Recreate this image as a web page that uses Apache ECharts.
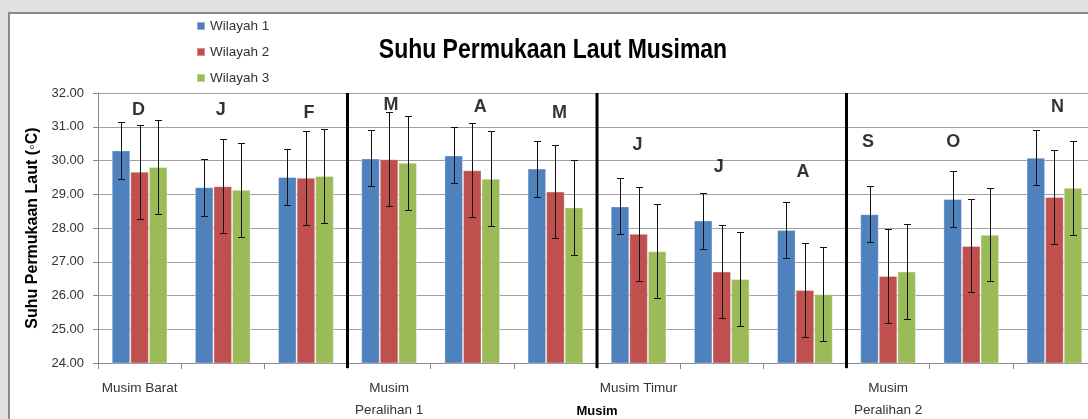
<!DOCTYPE html>
<html><head><meta charset="utf-8">
<script src="https://cdn.jsdelivr.net/npm/echarts@6/dist/echarts.min.js"></script>
<style>html,body{margin:0;padding:0;background:#e0e0e0}#c{width:1088px;height:419px}</style>
</head><body><div id="c"></div>
<script>
// ---------- data ----------
const seasonLabels = ['Musim Barat','','','Musim\nPeralihan 1','','','Musim Timur','','','Musim\nPeralihan 2','',''];
const months = ['D','J','F','M','A','M','J','J','A','S','O','N'];
const monthLetterY = [31.49,31.49,31.40,31.64,31.58,31.40,30.45,29.80,29.65,30.54,30.54,31.58];
const seriesNames = ['Wilayah 1','Wilayah 2','Wilayah 3'];
const wilayah1 = [30.30,29.21,29.51,30.06,30.15,29.76,28.64,28.22,27.94,28.41,28.86,30.08];
const wilayah2 = [29.67,29.24,29.49,30.04,29.71,29.08,27.83,26.71,26.16,26.58,27.47,28.92];
const wilayah3 = [29.81,29.13,29.54,29.93,29.46,28.61,27.31,26.49,26.04,26.71,27.80,29.19];
const err1 = [0.84,0.84,0.83,0.83,0.83,0.83,0.83,0.83,0.84,0.83,0.83,0.82];
const err2 = [1.39,1.40,1.39,1.39,1.39,1.39,1.39,1.39,1.39,1.39,1.38,1.38];
const err3 = [1.40,1.40,1.39,1.40,1.40,1.40,1.39,1.40,1.40,1.40,1.38,1.40];
const seasonStarts = [3,6,9];
const yMin = 24, yMax = 32, yStep = 1;
const chartTitle = 'Suhu Permukaan Laut Musiman';

// ---------- style ----------
const colors = ['#4F81BD','#C0504D','#9BBB59'];
const sans = '"Liberation Sans",Arial,sans-serif';
const letterNudge = [-1,-2,3,2,8,4,-1,-3,-2,-20,-18,3];
const catGap = 0.33;

const values = [wilayah1, wilayah2, wilayah3];
const errs = [err1, err2, err3];

function barSeries(k) {
  return {
    type: 'bar', name: seriesNames[k], data: values[k],
    barGap: '0%', barCategoryGap: (catGap*100)+'%',
    itemStyle: { color: colors[k], borderColor: 'rgba(255,255,255,0.35)', borderWidth: 1 },
    z: 2
  };
}
function errSeries(k) {
  return {
    type: 'custom', name: seriesNames[k] + ' error', z: 5, silent: true,
    data: values[k].map((v, i) => [i, v, errs[k][i]]),
    renderItem(params, api) {
      const i = api.value(0), v = api.value(1), e = api.value(2);
      const band = api.size([1, 0])[0];
      const bw = band * (1 - catGap) / 3;
      const top = api.coord([i, v + e]);
      const bot = api.coord([i, v - e]);
      const x = Math.round(top[0] + (k - 1) * bw) + 0.5;
      const y1 = Math.round(top[1]) + 0.5, y2 = Math.round(bot[1]) + 0.5;
      const c = 3.5;
      const st = { stroke: '#111', lineWidth: 1 };
      return { type: 'group', children: [
        { type: 'line', shape: { x1: x, y1: y1, x2: x, y2: y2 }, style: st },
        { type: 'line', shape: { x1: x - c, y1: y1, x2: x + c, y2: y1 }, style: st },
        { type: 'line', shape: { x1: x - c, y1: y2, x2: x + c, y2: y2 }, style: st }
      ]};
    }
  };
}

const chart = echarts.init(document.getElementById('c'));
chart.setOption({
  backgroundColor: '#e0e0e0',
  animation: false,
  graphic: [{
    type: 'rect', left: 8, top: 12, z: -100, silent: true,
    shape: { width: 1100, height: 420 },
    style: { fill: '#ffffff', stroke: '#8a8a8a', lineWidth: 2 }
  }, {
    type: 'text', x: 553, y: 50, scaleX: 0.82, silent: true,
    style: { text: chartTitle, x: 0, y: 0, align: 'center', verticalAlign: 'middle',
             font: 'bold 28px ' + sans, fill: '#000' }
  }],
  legend: {
    data: seriesNames, orient: 'vertical', left: 196, top: 18, padding: 0,
    itemWidth: 8, itemHeight: 8, itemGap: 10, icon: 'rect',
    textStyle: { fontFamily: sans, fontSize: 13.5, lineHeight: 16, color: '#333' }
  },
  grid: { left: 98, top: 93, width: 998, height: 270, containLabel: false, outerBoundsMode: 'none' },
  xAxis: {
    type: 'category', data: seasonLabels,
    name: 'Musim', nameLocation: 'middle', nameGap: 42, nameMoveOverlap: false,
    nameTextStyle: { fontFamily: sans, fontSize: 13, fontWeight: 'bold', color: '#000' },
    axisLine: { lineStyle: { color: '#8a8a8a', width: 1 } },
    axisTick: { show: true, length: 6, interval: 0, alignWithLabel: false, lineStyle: { color: '#8a8a8a' } },
    axisLabel: { interval: 0, margin: 14, fontFamily: sans, fontSize: 13.5, lineHeight: 22, color: '#333' },
    splitLine: { show: false }
  },
  yAxis: {
    type: 'value', min: yMin, max: yMax, interval: yStep,
    name: 'Suhu Permukaan Laut (◦C)', nameLocation: 'middle', nameGap: 53, nameRotate: 90,
    nameTextStyle: { fontFamily: sans, fontSize: 16, fontWeight: 'bold', color: '#000' },
    axisLine: { show: true, lineStyle: { color: '#8a8a8a' } },
    axisTick: { show: true, length: 5, lineStyle: { color: '#8a8a8a' } },
    axisLabel: { margin: 14, fontFamily: sans, fontSize: 13, color: '#333', formatter: v => v.toFixed(2) },
    splitLine: { lineStyle: { color: '#a0a0a0', width: 1 } }
  },
  series: [
    barSeries(0), barSeries(1), barSeries(2),
    errSeries(0), errSeries(1), errSeries(2),
    {
      type: 'custom', name: 'separators', z: 6, silent: true,
      data: seasonStarts.map(s => [s]),
      renderItem(params, api) {
        const s = api.value(0);
        const band = api.size([1, 0])[0];
        const top = api.coord([s, yMax]);
        const bot = api.coord([s, yMin]);
        const x = top[0] - band / 2;
        return { type: 'line', shape: { x1: x, y1: top[1], x2: x, y2: bot[1] + 5 },
                 style: { stroke: '#000', lineWidth: 3 } };
      }
    },
    {
      type: 'scatter', name: 'months', symbolSize: 0, z: 7, silent: true,
      data: months.map((m, i) => ({ value: [i, monthLetterY[i]], label: { offset: [letterNudge[i], 0] } })),
      label: {
        show: true, position: 'inside',
        formatter: p => months[p.dataIndex],
        fontFamily: sans, fontSize: 18, fontWeight: 'bold', color: '#000'
      }
    }
  ]
});
</script></body></html>
